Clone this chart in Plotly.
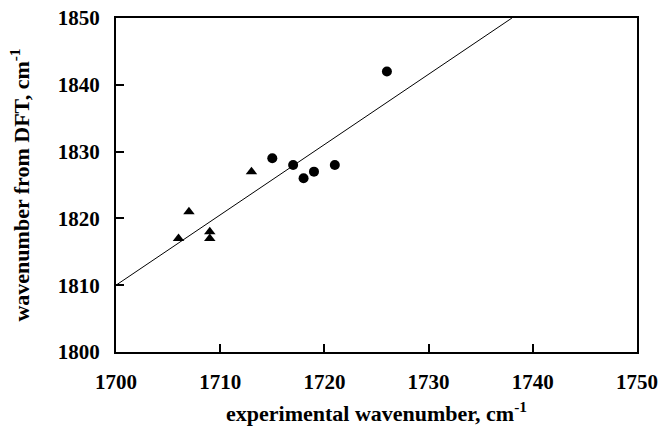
import plotly.graph_objects as go

# data
circle_x = [1715, 1717, 1718, 1719, 1721, 1726]
circle_y = [1829, 1828, 1826, 1827, 1828, 1842]
tri_x = [1706, 1707, 1709, 1709, 1713]
tri_y = [1817, 1821, 1818, 1817, 1827]
fit_x = [1700, 1738]
fit_y = [1810, 1850]

x_ticks = [1700, 1710, 1720, 1730, 1740, 1750]
y_ticks = [1800, 1810, 1820, 1830, 1840, 1850]

FONT = "Liberation Serif"

fig = go.Figure()
fig.add_trace(go.Scatter(x=fit_x, y=fit_y, mode="lines",
                         line=dict(color="black", width=1), showlegend=False))
fig.add_trace(go.Scatter(x=tri_x, y=tri_y, mode="markers",
                         marker=dict(symbol="triangle-up", size=10, color="black"),
                         showlegend=False))
fig.add_trace(go.Scatter(x=circle_x, y=circle_y, mode="markers",
                         marker=dict(symbol="circle", size=10, color="black"),
                         showlegend=False))

axis_common = dict(showgrid=False, zeroline=False, showline=True, linecolor="black",
                   linewidth=2, mirror=True, ticks="inside", ticklen=8, tickwidth=2,
                   tickcolor="black", automargin=False,
                   tickfont=dict(family=FONT, size=21, color="black", weight="bold"))

fig.update_xaxes(range=[1700, 1750], tickvals=x_ticks, ticktext=[str(v) for v in x_ticks],
                 ticklabelstandoff=10,
                 title=dict(text="<b>experimental wavenumber, cm<sup>-1</sup></b>",
                            font=dict(family=FONT, size=22, color="black"), standoff=13),
                 **axis_common)
fig.update_yaxes(range=[1800, 1850], tickvals=y_ticks, ticktext=[str(v) for v in y_ticks],
                 ticklabelstandoff=10,
                 title=dict(text="<b>wavenumber from DFT, cm<sup>-1</sup></b>",
                            font=dict(family=FONT, size=22, color="black"), standoff=22),
                 **axis_common)

fig.update_layout(width=658, height=426, margin=dict(l=116, r=21, t=18, b=74),
                  plot_bgcolor="white", paper_bgcolor="white")

fig.write_html("out.html")
